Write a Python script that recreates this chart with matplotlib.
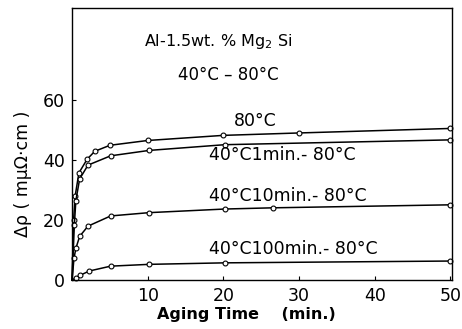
import matplotlib.pyplot as plt

# data
t_80 = [0, 0.2, 0.4, 0.9, 2.0, 3.0, 5.0, 10, 20, 30, 50]
r_80 = [0, 20.0, 27.8, 35.6, 40.2, 42.8, 44.8, 46.4, 48.1, 48.9, 50.4]

t_1min = [0, 0.3, 0.5, 1.0, 2.1, 5.1, 10.2, 20.2, 50]
r_1min = [0, 18.3, 26.4, 33.6, 38.2, 41.3, 43.1, 45.0, 46.6]

t_10min = [0, 0.25, 0.5, 1.0, 2.1, 5.1, 10.2, 20.2, 26.5, 50]
r_10min = [0, 7.2, 10.5, 14.5, 17.9, 21.3, 22.4, 23.6, 24.0, 25.0]

t_100min = [0, 0.5, 1.0, 2.3, 5.1, 10.2, 20.2, 50]
r_100min = [0, 0.7, 1.5, 3.0, 4.6, 5.2, 5.7, 6.3]

labels = ["80°C", "40°C1min.- 80°C", "40°C10min.- 80°C", "40°C100min.- 80°C"]
label_pos = [(21.4, 53.0), (18.1, 41.5), (18.1, 28.0), (18.1, 10.2)]

plt.rcParams['font.family'] = 'DejaVu Sans'

fig = plt.figure(figsize=(4.62, 3.29), dpi=100)
ax = fig.add_axes([0.156, 0.149, 0.822, 0.827])

for t, r in [(t_80, r_80), (t_1min, r_1min), (t_10min, r_10min), (t_100min, r_100min)]:
    ax.plot(t, r, color='black', lw=1.1, marker='o', markersize=3.5,
            markerfacecolor='white', markeredgewidth=0.8, markevery=range(1, len(t)),
            clip_on=False)

for lab, (x, y) in zip(labels, label_pos):
    ax.text(x, y, lab, fontsize=12.5, va='center', ha='left')

ax.text(9.5, 79.3, "Al-1.5wt. % Mg$_2$ Si", fontsize=11.5, va='center', ha='left')
ax.text(14.0, 68.3, "40°C – 80°C", fontsize=12, va='center', ha='left')

ax.set_xlim(0, 50.2)
ax.set_ylim(0, 90.5)
ax.set_xticks([10, 20, 30, 40, 50])
ax.set_yticks([0, 20, 40, 60])
ax.tick_params(direction='in', length=3, labelsize=12.5, width=0.8, pad=5)
ax.set_xlabel("Aging Time    (min.)", fontsize=11.5, fontweight='bold')
ax.set_ylabel("Δρ ( mμΩ·cm )", fontsize=12.5)
ax.xaxis.set_label_coords(0.46, -0.10)
ax.yaxis.set_label_coords(-0.105, 0.39)
for s in ax.spines.values():
    s.set_linewidth(1.0)

fig.savefig("out.png", dpi=100)
